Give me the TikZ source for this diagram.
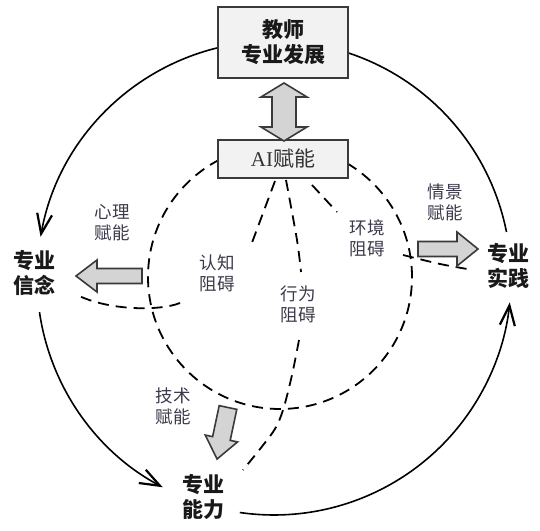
\documentclass[tikz,border=0pt]{standalone}
\usepackage{fontspec}
\setmainfont{Liberation Serif}
\newfontfamily\cjk{Noto Sans CJK SC}
\usetikzlibrary{arrows.meta}
\definecolor{boxfill}{HTML}{F2F2F2}
\definecolor{boxline}{HTML}{3A3A3A}
\definecolor{arrfill}{HTML}{D4D4D4}
\definecolor{lbl}{HTML}{3C3A4A}
\newcommand\blockarr[7]{\begin{scope}[shift={(#1,#2)},rotate=#3]
\draw[blk] (0,-#6)--({#4-#5},-#6)--({#4-#5},-#7)--(#4,0)--({#4-#5},#7)--({#4-#5},#6)--(0,#6)--cycle;
\end{scope}}
\begin{document}
\begin{tikzpicture}[x=1pt,y=1pt,
  outer/.style={line width=1.6pt, draw=black},
  tipv/.style={-{Straight Barb[length=20pt,width=15pt,line width=2.2pt]}},
  dsh/.style={line width=1.8pt, dash pattern=on 11pt off 7pt},
  box/.style={draw=boxline, line width=1.5pt, fill=boxfill, minimum width=130pt, align=center, inner sep=0pt},
  big/.style={font=\cjk\bfseries\fontsize{21}{25}\selectfont, align=center, text=black!90},
  thin/.style={font=\cjk\fontsize{17.5}{21}\selectfont, align=center, text=lbl, inner sep=2pt},
  blk/.style={draw=boxline, line width=1.6pt, fill=arrfill, line join=miter}]
\useasboundingbox (0,0) rectangle (540,530);
\coordinate (C) at (274,252);
\coordinate (D) at (280,253);
% outer cycle
\draw[outer,tipv] (C) ++(98:237) arc[start angle=98,end angle=170,radius=237];
\draw[outer,tipv] (C) ++(188.3:237) arc[start angle=188.3,end angle=242,radius=237];
\draw[outer,tipv] (C) ++(261.7:237) arc[start angle=261.7,end angle=354.1,radius=237];
\draw[outer] (C) ++(11.2:237) arc[start angle=11.2,end angle=80,radius=237];
% inner dashed circle
\draw[dsh] (D) circle[radius=132];
% barrier curves
\draw[dsh] (275,349) -- (250,282);
\draw[dsh] (180,227) .. controls (160,219) and (110,219) .. (77,235);
\draw[dsh] plot[smooth] coordinates {(286,350) (297,290) (301,258)};
\draw[dsh] plot[smooth] coordinates {(299,190) (292,155) (283,120) (273,98) (243,60)};
\draw[dsh] (312,345) -- (337,318);
\draw[dsh] plot[smooth] coordinates {(403,275) (440,266) (473,260)};
% boxes
\node[box, minimum height=71pt, big] (teach) at (283,487.5) {教师\\专业发展};
\node[box, minimum height=38pt, font=\fontsize{21}{24}\selectfont, text=black!80] (ai) at (283,371) {AI{\cjk 赋能}};
% block arrows
\draw[blk] (284,447)--(307,433)--(296,433)--(296,403)--(307,403)--(284,389)--(261,403)--(272,403)--(272,433)--(261,433)--cycle;
\blockarr{142}{254}{180}{66}{21}{7.5}{16}
\blockarr{418}{281}{0}{60}{21}{7.5}{17}
\blockarr{228}{122.5}{258}{52.7}{21}{9}{16.5}
% main labels
\node[big] (belief) at (34,257.5) {专业\\信念};
\node[big] (practice) at (508,264.5) {专业\\实践};
\node[big] (ability) at (203,33.5) {专业\\能力};
% small labels
\node[thin] (psy) at (112,307.5) {心理\\赋能};
\node[thin] (sit) at (445,328) {情景\\赋能};
\node[thin] (tech) at (173,123.5) {技术\\赋能};
\node[thin] (cog) at (217,257) {认知\\阻碍};
\node[thin] (beh) at (298,226) {行为\\阻碍};
\node[thin] (env) at (367,292) {环境\\阻碍};
\end{tikzpicture}
\end{document}
